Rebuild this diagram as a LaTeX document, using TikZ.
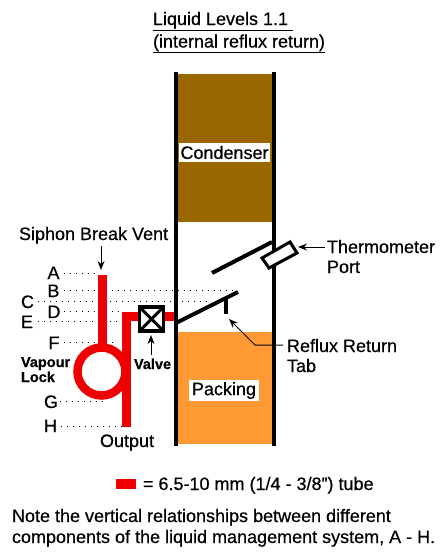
\documentclass[tikz,border=0pt]{standalone}
\usepackage{fontspec}
\setmainfont[FakeBold=0.5]{Liberation Sans}
\definecolor{brownfill}{HTML}{996600}
\definecolor{orangefill}{HTML}{FF9933}
\definecolor{tubered}{HTML}{EE0000}
\usetikzlibrary{arrows.meta}
\tikzset{
  lbl/.style={anchor=base west,inner sep=0pt,outer sep=0pt,font=\fontsize{18}{20}\selectfont},
  boldlbl/.style={anchor=base west,inner sep=0pt,outer sep=0pt,font=\fontsize{14.5}{16}\selectfont\bfseries},
  wall/.style={line width=4pt,black},
  tube/.style={line width=9pt,tubered},
  leveldots/.style={line width=1pt,dash pattern=on 1pt off 5pt},
  pointer/.style={line width=1pt,-{Stealth[length=9pt,width=7pt]}},
  boardtext/.style={fill=white,inner sep=0pt,font=\fontsize{18}{20}\selectfont}
}
\begin{document}
\begin{tikzpicture}[x=1pt,y=-1pt]
\useasboundingbox (0,0) rectangle (446,558);
\fill[white] (0,0) rectangle (446,558);
% column
\fill[brownfill] (176,74) rectangle (274,222);
\fill[orangefill] (176,332) rectangle (274,444);
% level lines
\coordinate (pA) at (98,273); \coordinate (pB) at (236,290); \coordinate (pC) at (210,301);
\coordinate (pD) at (122,311); \coordinate (pE) at (122,321); \coordinate (pF) at (115,342);
\coordinate (pG) at (105,401); \coordinate (pH) at (122,426);
\coordinate (qA) at (64,273); \coordinate (qB) at (64,290); \coordinate (qC) at (38,301);
\coordinate (qD) at (64,311); \coordinate (qE) at (38,321); \coordinate (qF) at (64,342);
\coordinate (qG) at (60,401); \coordinate (qH) at (61,426);
\foreach \n in {A,B,C,D,E,F,G,H} \draw[leveldots] (q\n) -- (p\n);
% tube
\coordinate (ventTop) at (102.5,275);
\coordinate (ventBot) at (102.5,348);
\coordinate (outBot) at (126.5,427);
\coordinate (outCorner) at (126.5,316.5);
\coordinate (wallJoin) at (176,316.5);
\draw[tube] (ventTop) -- (ventBot);
\draw[tube,line width=8.5pt] (101.5,371.5) circle[radius=24];
\draw[tube,line cap=butt] (outBot) -- (outCorner) -- (wallJoin);
\draw[tube,line cap=butt] (122,316.5) -- (wallJoin);
% walls
\draw[wall] (176,72) -- (176,446);
\draw[wall] (274,72) -- (274,446);
% baffles
\coordinate (b1a) at (212,273); \coordinate (b1b) at (272,242);
\coordinate (b2a) at (176,323); \coordinate (b2b) at (238,292);
\coordinate (tabTop) at (226,297); \coordinate (tabBot) at (226,314);
\draw[wall] (b1a) -- (b1b);
\draw[wall] (b2a) -- (b2b);
\draw[wall] (tabTop) -- (tabBot);
% thermometer port
\draw[black,line width=3pt,fill=white,line join=miter] (262,258) -- (290,242) -- (297,253) -- (269,268) -- cycle;
% valve
\node[draw=black,line width=3.5pt,fill=white,minimum size=24pt,inner sep=0pt,outer sep=0pt] (valve) at (151.5,319) {};
\draw[black,line width=3pt] (valve.north west) -- (valve.south east);
\draw[black,line width=3pt] (valve.north east) -- (valve.south west);
% board labels
\node[boardtext,minimum width=91pt,minimum height=19pt] (cond) at (224.5,152.5) {Condenser};
\node[boardtext,minimum width=70pt,minimum height=21pt] (pack) at (224,390.5) {Packing};
% text
\node[lbl] (title1) at (153,25) {\underline{Liquid Levels 1.1\ }};
\node[lbl] (title2) at (153,47.5) {\underline{(internal reflux return)}};
\node[lbl] (siphon) at (19,240) {Siphon Break Vent};
\node[lbl] (la) at (47.5,279) {A};
\node[lbl] (lb) at (47.5,297) {B};
\node[lbl] (lc) at (21,308) {C};
\node[lbl] (ld) at (47.5,318) {D};
\node[lbl] (le) at (21,328) {E};
\node[lbl] (lf) at (48.5,349) {F};
\node[lbl] (lg) at (44,408) {G};
\node[lbl] (lh) at (44,432) {H};
\node[boldlbl] (vap) at (21,367) {Vapour};
\node[boldlbl] (lock) at (21,382) {Lock};
\node[boldlbl] (vlv) at (134,369) {Valve};
\node[lbl] (out) at (100,447) {Output};
\node[lbl] (therm) at (327,253) {Thermometer};
\node[lbl] (port) at (327,273) {Port};
\node[lbl] (refl) at (287,352) {Reflux Return};
\node[lbl] (tab) at (287,372) {Tab};
\fill[tubered] (116,479) rectangle (136,489);
\node[lbl] (legend) at (143,490) {= 6.5-10 mm (1/4 - 3/8”) tube};
\node[lbl] (note1) at (12,522) {Note the vertical relationships between different};
\node[lbl] (note2) at (12,543) {components of the liquid management system, A - H.};
% pointers
\coordinate (sA) at (101,246); \coordinate (sB) at (101,270);
\coordinate (vA) at (151,355); \coordinate (vB) at (151,335);
\coordinate (tA) at (325,247); \coordinate (tB) at (298,247);
\coordinate (rA) at (283,345); \coordinate (rK) at (255,345); \coordinate (rB) at (229,319);
\draw[pointer] (sA) -- (sB);
\draw[pointer] (vA) -- (vB);
\draw[pointer] (tA) -- (tB);
\draw[pointer] (rA) -- (rK) -- (rB);
\end{tikzpicture}
\end{document}
